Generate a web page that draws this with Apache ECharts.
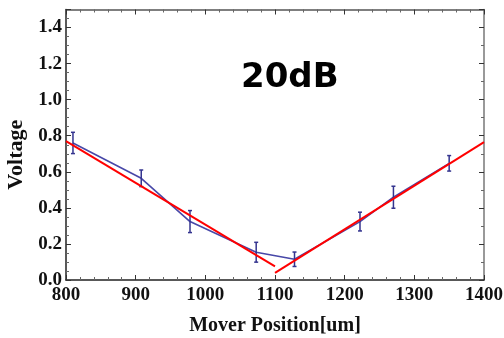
<!DOCTYPE html>
<html>
<head>
<meta charset="utf-8">
<script src="https://cdn.jsdelivr.net/npm/echarts@6/dist/echarts.min.js"></script>
<style>
  html, body { margin: 0; padding: 0; background: #fff; }
  #chart { width: 504px; height: 338px; }
</style>
</head>
<body>
<div id="chart"></div>
<script>
// measured points with error bars
const positions = [810, 908, 978, 1073, 1128, 1222, 1270, 1350];
const voltages = [0.76, 0.564, 0.324, 0.154, 0.115, 0.324, 0.459, 0.647];
const errors = [0.059, 0.046, 0.061, 0.055, 0.04, 0.052, 0.061, 0.043];

// linear fits (two branches)
const fitLeftX = [800, 1100];
const fitLeftY = [0.77, 0.075];
const fitRightX = [1100, 1400];
const fitRightY = [0.04, 0.765];

const chart = echarts.init(document.getElementById('chart'));

const serif = 'Liberation Serif';
const tickStyle = { inside: true, length: 5, lineStyle: { color: '#333', width: 1 } };
const minorStyle = { show: true, length: 3, lineStyle: { color: '#666', width: 1 } };

const points = positions.map((x, i) => [x, voltages[i]]);
const bars = positions.map((x, i) => [x, voltages[i] - errors[i], voltages[i] + errors[i]]);

const option = {
  animation: false,
  backgroundColor: '#fff',
  grid: { left: 66, right: 20, top: 9.5, bottom: 58, outerBoundsMode: 'none', containLabel: false },
  graphic: [
    {
      type: 'text',
      left: 241, top: 61,
      style: { text: '20dB', font: 'bold 34px "DejaVu Sans"', fill: '#000' }
    }
  ],
  xAxis: [
    {
      type: 'value', min: 800, max: 1400, interval: 100,
      name: 'Mover Position[um]', nameLocation: 'middle', nameGap: 36,
      nameTextStyle: { fontFamily: serif, fontWeight: 'bold', fontSize: 20, color: '#111' },
      axisLine: { lineStyle: { color: '#222', width: 1.5 } },
      axisTick: tickStyle,
      minorTick: { ...minorStyle, splitNumber: 5 },
      axisLabel: {
        fontFamily: serif, fontWeight: 'bold', fontSize: 19, color: '#111', margin: 6,
        formatter: v => String(v)
      },
      splitLine: { show: false }
    },
    {
      type: 'value', position: 'top', min: 800, max: 1400, interval: 100,
      axisLine: { show: true, onZero: false, lineStyle: { color: '#555', width: 1.5 } },
      axisTick: tickStyle,
      minorTick: { ...minorStyle, splitNumber: 5 },
      axisLabel: { show: false },
      splitLine: { show: false }
    }
  ],
  yAxis: [
    {
      type: 'value', min: 0, max: 1.5, interval: 0.2,
      name: 'Voltage', nameLocation: 'middle', nameGap: 37,
      nameTextStyle: {
        fontFamily: serif, fontWeight: 'bold', fontSize: 22, color: '#111',
        padding: [0, 20, 0, 0]
      },
      axisLine: { show: true, onZero: false, lineStyle: { color: '#222', width: 1.5 } },
      axisTick: tickStyle,
      minorTick: { ...minorStyle, splitNumber: 4 },
      axisLabel: {
        fontFamily: serif, fontWeight: 'bold', fontSize: 19, color: '#111', margin: 4,
        showMaxLabel: false,
        formatter: v => v.toFixed(1)
      },
      splitLine: { show: false }
    },
    {
      type: 'value', position: 'right', min: 0, max: 1.5, interval: 0.2,
      axisLine: { show: true, onZero: false, lineStyle: { color: '#777', width: 1.5 } },
      axisTick: tickStyle,
      minorTick: { ...minorStyle, splitNumber: 2 },
      axisLabel: { show: false },
      splitLine: { show: false }
    }
  ],
  series: [
    {
      type: 'line',
      data: points,
      symbol: 'none',
      lineStyle: { color: '#4848a8', width: 1.6 },
      z: 3
    },
    {
      type: 'custom',
      data: bars,
      renderItem: (params, api) => {
        const top = api.coord([api.value(0), api.value(2)]);
        const bot = api.coord([api.value(0), api.value(1)]);
        const cap = 2;
        const style = { stroke: '#34348f', lineWidth: 1.5 };
        return {
          type: 'group',
          children: [
            { type: 'line', shape: { x1: top[0], y1: top[1], x2: bot[0], y2: bot[1] }, style },
            { type: 'line', shape: { x1: top[0] - cap, y1: top[1], x2: top[0] + cap, y2: top[1] }, style },
            { type: 'line', shape: { x1: bot[0] - cap, y1: bot[1], x2: bot[0] + cap, y2: bot[1] }, style }
          ]
        };
      },
      z: 4
    },
    {
      type: 'line',
      data: fitLeftX.map((x, i) => [x, fitLeftY[i]]),
      symbol: 'none',
      lineStyle: { color: '#ff0000', width: 2 },
      z: 5
    },
    {
      type: 'line',
      data: fitRightX.map((x, i) => [x, fitRightY[i]]),
      symbol: 'none',
      lineStyle: { color: '#ff0000', width: 2 },
      z: 5
    }
  ]
};

chart.setOption(option);
</script>
</body>
</html>
